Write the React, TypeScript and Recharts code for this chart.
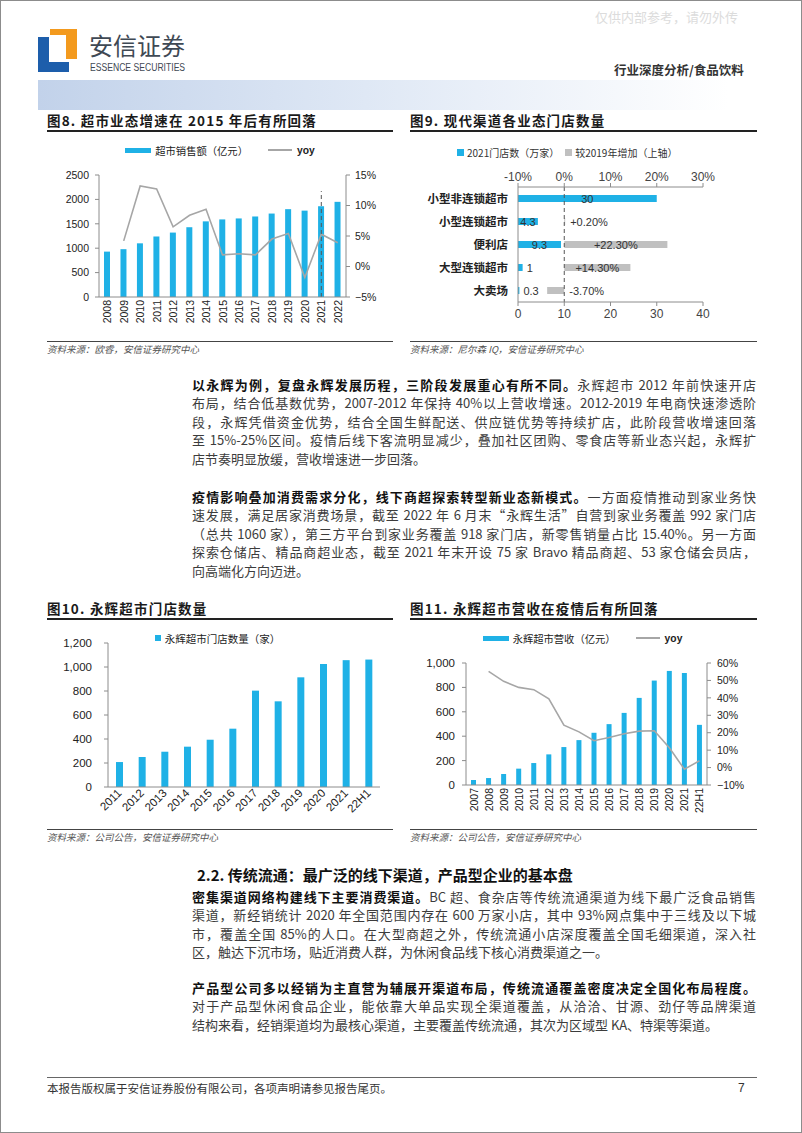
import React from 'react';
import {
  Bar,
  BarChart,
  ComposedChart,
  LabelList,
  Legend,
  Line,
  ReferenceLine,
  XAxis,
  YAxis
} from 'recharts';

// 图8 超市销售额
const fig8Years = ['2008', '2009', '2010', '2011', '2012', '2013', '2014', '2015', '2016', '2017', '2018', '2019', '2020', '2021', '2022'];
const fig8Sales = [930, 980, 1100, 1240, 1320, 1430, 1550, 1590, 1610, 1650, 1710, 1800, 1770, 1860, 1950];
const fig8Yoy = [null, 4.2, 13.2, 12.7, 6.5, 8.4, 9.4, 1.9, 2.1, 1.9, 4.5, 5.4, -1.8, 5.3, 3.9];

// 图9 各业态门店数量
const fig9Formats = ['小型非连锁超市', '小型连锁超市', '便利店', '大型连锁超市', '大卖场'];
const fig9Stores = [30, 4.3, 9.3, 1, 0.3];
const fig9Change = [null, 0.2, 22.3, 14.3, -3.7];

// 图10 永辉门店数量
const fig10Periods = ['2011', '2012', '2013', '2014', '2015', '2016', '2017', '2018', '2019', '2020', '2021', '22H1'];
const fig10Stores = [208, 250, 294, 336, 394, 486, 803, 714, 914, 1025, 1057, 1062];

// 图11 永辉营收
const fig11Periods = ['2007', '2008', '2009', '2010', '2011', '2012', '2013', '2014', '2015', '2016', '2017', '2018', '2019', '2020', '2021', '22H1'];
const fig11Revenue = [41, 57, 90, 134, 180, 251, 311, 368, 428, 499, 591, 714, 856, 935, 918, 493];
const fig11Yoy = [null, 55.2, 49.5, 46, 44.7, 39.4, 24.3, 20.5, 15.4, 17.3, 19.4, 20.9, 21.1, 11.4, -1, 3.9];

const fig8Data = fig8Years.map((year, i) => ({ year, sales: fig8Sales[i], yoy: fig8Yoy[i] }));
const fig9Data = fig9Formats.map((format, i) => ({ format, stores: fig9Stores[i], change: fig9Change[i] }));
const fig10Data = fig10Periods.map((period, i) => ({ period, stores: fig10Stores[i] }));
const fig11Data = fig11Periods.map((period, i) => ({ period, revenue: fig11Revenue[i], yoy: fig11Yoy[i] }));

const BLUE = '#1fb1e6';
const YOY_GRAY = '#a6a6a6';
const BAR_GRAY = '#c0c0c0';
const AXIS = '#8c8c8c';
const SANS = '"Liberation Sans", Arial, sans-serif';
const CJK = '"Noto Sans CJK SC", "Noto Sans", sans-serif';

const pct = (v: number) => (v < 0 ? `−${Math.abs(v)}%` : `${v}%`);
const thousands = (v: number) => v.toLocaleString('en-US');

function RotatedTick(props: any) {
  const { x, y, payload, angle, fontSize } = props;
  return (
    <g transform={`translate(${x},${y})`}>
      <text
        transform={`rotate(${angle})`}
        textAnchor="end"
        dominantBaseline="central"
        fontSize={fontSize}
        fontFamily={SANS}
        fill="#222">
        {payload.value}
      </text>
    </g>
  );
}

const numTick = (size: number) => ({ fontSize: size, fill: '#222', fontFamily: SANS });

function BarKey({ w = 26, h = 5 }: { w?: number; h?: number }) {
  return <span style={{ display: 'inline-block', width: w, height: h, background: BLUE }} />;
}

function LineKey() {
  return <span style={{ display: 'inline-block', width: 24, height: 1.5, background: YOY_GRAY }} />;
}

function ComboLegend({ label }: { label: string }) {
  return (
    <div
      style={{
        display: 'flex',
        justifyContent: 'center',
        alignItems: 'center',
        height: 16,
        fontSize: 10.3,
        color: '#222',
        fontFamily: CJK
      }}>
      <BarKey />
      <span style={{ marginLeft: 4, marginRight: 20 }}>{label}</span>
      <LineKey />
      <span style={{ marginLeft: 5, fontFamily: SANS, fontWeight: 700 }}>yoy</span>
    </div>
  );
}

function StoreLabel(props: any) {
  const vb = props.viewBox || {};
  const x = props.x ?? vb.x;
  const y = props.y ?? vb.y;
  const width = props.width ?? vb.width;
  const height = props.height ?? vb.height;
  const { value } = props;
  if (value == null) return null;
  const inside = value >= 4;
  return (
    <text
      x={inside ? x + width / 2 : x + width + 4}
      y={y + height / 2}
      textAnchor={inside ? 'middle' : 'start'}
      dominantBaseline="central"
      fontSize={11}
      fontFamily={SANS}
      fill="#333">
      {value}
    </text>
  );
}

function ChangeLabel(props: any) {
  const vb = props.viewBox || {};
  const x = props.x ?? vb.x;
  const y = props.y ?? vb.y;
  const width = props.width ?? vb.width;
  const height = props.height ?? vb.height;
  const { value } = props;
  if (value == null) return null;
  const text = value > 0 ? `+${value.toFixed(2)}%` : `${value.toFixed(2)}%`;
  const inside = Math.abs(width) > 45;
  const right = Math.max(x, x + width);
  return (
    <text
      x={inside ? x + width / 2 : right + 5}
      y={y + height / 2}
      textAnchor={inside ? 'middle' : 'start'}
      dominantBaseline="central"
      fontSize={11}
      fontFamily={SANS}
      fill="#333">
      {text}
    </text>
  );
}

function Abs({ x, y, style, children }: { x: number; y: number; style?: React.CSSProperties; children?: React.ReactNode }) {
  return <div style={{ position: 'absolute', left: x, top: y, ...style }}>{children}</div>;
}

function FigTitle({ x, y, w, text }: { x: number; y: number; w: number; text: string }) {
  return (
    <>
      <Abs
        x={x}
        y={y - 10}
        style={{ fontSize: 13.5, lineHeight: '20px', fontWeight: 700, color: '#1a1a1a', fontFamily: CJK, letterSpacing: 1.2, whiteSpace: 'nowrap' }}>
        {text}
      </Abs>
      <Abs x={x} y={y + 10} style={{ width: w, height: 1.5, background: '#222' }} />
    </>
  );
}

function Source({ x, y, w, text }: { x: number; y: number; w: number; text: string }) {
  return (
    <>
      <Abs x={x} y={y - 8} style={{ width: w, height: 1, background: '#444' }} />
      <Abs
        x={x}
        y={y - 7}
        style={{ fontSize: 9.5, lineHeight: '14px', fontStyle: 'italic', color: '#555', fontFamily: CJK, whiteSpace: 'nowrap' }}>
        {text}
      </Abs>
    </>
  );
}

type Seg = { b?: string; t?: string };

function Para({ top, lines }: { top: number; lines: Seg[] }) {
  return (
    <div
      style={{
        position: 'absolute',
        left: 192,
        top,
        width: 564,
        fontSize: 13,
        lineHeight: '18.5px',
        color: '#3c3c3c',
        fontFamily: CJK
      }}>
      {lines.map((l, i) => (
        <div key={i} style={{ textAlign: 'justify', textAlignLast: i === lines.length - 1 ? 'left' : 'justify' }}>
          {l.b && <span style={{ fontWeight: 700, color: '#111' }}>{l.b}</span>}
          {l.t}
        </div>
      ))}
    </div>
  );
}

function Fig8() {
  return (
    <div style={{ position: 'absolute', left: 40, top: 135 }}>
      <ComposedChart width={360} height={205} data={fig8Data} margin={{ top: 40, right: 0, bottom: 0, left: 0 }}>
        <Legend
          layout="horizontal"
          verticalAlign="middle"
          align="center"
          wrapperStyle={{ top: 7, left: 0, width: 360 }}
          content={() => <ComboLegend label="超市销售额（亿元）" />}
        />
        <XAxis
          dataKey="year"
          interval={0}
          height={43}
          tickLine={false}
          tickSize={0}
          tickMargin={3}
          axisLine={{ stroke: AXIS }}
          tick={(p: any) => <RotatedTick {...p} angle={-90} fontSize={10.5} />}
        />
        <YAxis
          yAxisId="left"
          domain={[0, 2500]}
          ticks={[0, 500, 1000, 1500, 2000, 2500]}
          width={59}
          axisLine={{ stroke: AXIS }}
          tickLine={{ stroke: AXIS }}
          tickSize={4}
          tickMargin={6}
          tick={numTick(10.5)}
        />
        <YAxis
          yAxisId="right"
          orientation="right"
          domain={[-5, 15]}
          ticks={[-5, 0, 5, 10, 15]}
          tickFormatter={pct}
          width={54}
          axisLine={{ stroke: AXIS }}
          tickLine={{ stroke: AXIS }}
          tickSize={4}
          tickMargin={5}
          tick={numTick(10.5)}
        />
        <Bar yAxisId="left" dataKey="sales" fill={BLUE} barSize={6} isAnimationActive={false} />
        <Line
          yAxisId="right"
          type="linear"
          dataKey="yoy"
          stroke={YOY_GRAY}
          strokeWidth={1.6}
          dot={false}
          isAnimationActive={false}
        />
        <ReferenceLine
          yAxisId="left"
          segment={[
            { x: '2021', y: 0 },
            { x: '2021', y: 2170 }
          ]}
          stroke="#555"
          strokeDasharray="4 3"
        />
      </ComposedChart>
    </div>
  );
}

function Fig9() {
  return (
    <div style={{ position: 'absolute', left: 405, top: 135 }}>
      <BarChart
        width={355}
        height={205}
        data={fig9Data}
        layout="vertical"
        margin={{ top: 30, right: 57, bottom: 8, left: 0 }}>
        <Legend
          layout="horizontal"
          verticalAlign="middle"
          align="center"
          wrapperStyle={{ top: 9, left: 52, width: 'auto' }}
          content={() => (
            <div style={{ display: 'flex', alignItems: 'center', height: 16, fontSize: 10, color: '#333', fontFamily: CJK }}>
              <BarKey w={7} h={7} />
              <span style={{ marginLeft: 3, marginRight: 6 }}>2021门店数（万家）</span>
              <span style={{ display: 'inline-block', width: 7, height: 7, background: BAR_GRAY }} />
              <span style={{ marginLeft: 3 }}>较2019年增加（上轴）</span>
            </div>
          )}
        />
        <XAxis
          xAxisId="count"
          type="number"
          orientation="bottom"
          domain={[0, 40]}
          ticks={[0, 10, 20, 30, 40]}
          height={30}
          axisLine={{ stroke: AXIS }}
          tickLine={{ stroke: AXIS }}
          tickSize={4}
          tickMargin={3}
          tick={{ fontSize: 12, fill: '#444', fontFamily: SANS }}
        />
        <XAxis
          xAxisId="pct"
          type="number"
          orientation="top"
          domain={[-10, 30]}
          ticks={[-10, 0, 10, 20, 30]}
          tickFormatter={(v: number) => `${v}%`}
          height={22}
          axisLine={{ stroke: AXIS }}
          tickLine={{ stroke: AXIS }}
          tickSize={4}
          tickMargin={2}
          tick={{ fontSize: 12, fill: '#444', fontFamily: SANS }}
        />
        <YAxis
          yAxisId="a"
          type="category"
          dataKey="format"
          width={113}
          axisLine={{ stroke: AXIS }}
          tickLine={false}
          tickSize={0}
          tickMargin={10}
          tick={{ fontSize: 11.5, fill: '#222', fontFamily: CJK, fontWeight: 700 }}
        />
        <YAxis yAxisId="b" type="category" dataKey="format" hide />
        <Bar xAxisId="count" yAxisId="a" dataKey="stores" fill={BLUE} barSize={7} isAnimationActive={false}>
          <LabelList dataKey="stores" content={StoreLabel} />
        </Bar>
        <Bar xAxisId="pct" yAxisId="b" dataKey="change" fill={BAR_GRAY} barSize={7} isAnimationActive={false}>
          <LabelList dataKey="change" content={ChangeLabel} />
        </Bar>
        <ReferenceLine xAxisId="pct" yAxisId="a" x={0} stroke="#555" strokeDasharray="4 3" />
      </BarChart>
    </div>
  );
}

function Fig10() {
  return (
    <div style={{ position: 'absolute', left: 40, top: 620 }}>
      <BarChart width={355} height={210} data={fig10Data} margin={{ top: 23, right: 15, bottom: 0, left: 0 }}>
        <Legend
          layout="horizontal"
          verticalAlign="middle"
          align="center"
          wrapperStyle={{ top: 10, left: 0, width: 355 }}
          content={() => (
            <div style={{ display: 'flex', justifyContent: 'center', alignItems: 'center', height: 16, fontSize: 10.5, color: '#222', fontFamily: CJK }}>
              <BarKey w={6} h={6} />
              <span style={{ marginLeft: 4 }}>永辉超市门店数量（家）</span>
            </div>
          )}
        />
        <XAxis
          dataKey="period"
          interval={0}
          height={43}
          tickLine={false}
          tickSize={0}
          tickMargin={4}
          axisLine={{ stroke: AXIS }}
          tick={(p: any) => <RotatedTick {...p} angle={-45} fontSize={11.5} />}
        />
        <YAxis
          domain={[0, 1200]}
          ticks={[0, 200, 400, 600, 800, 1000, 1200]}
          tickFormatter={thousands}
          width={68}
          axisLine={{ stroke: AXIS }}
          tickLine={{ stroke: AXIS }}
          tickSize={4}
          tickMargin={12}
          tick={numTick(11.5)}
        />
        <Bar dataKey="stores" fill={BLUE} barSize={7} isAnimationActive={false} />
      </BarChart>
    </div>
  );
}

function Fig11() {
  return (
    <div style={{ position: 'absolute', left: 405, top: 620 }}>
      <ComposedChart width={355} height={210} data={fig11Data} margin={{ top: 43, right: 0, bottom: 0, left: 0 }}>
        <Legend
          layout="horizontal"
          verticalAlign="middle"
          align="center"
          wrapperStyle={{ top: 10, left: 0, width: 355 }}
          content={() => <ComboLegend label="永辉超市营收（亿元）" />}
        />
        <XAxis
          dataKey="period"
          interval={0}
          height={45}
          tickLine={false}
          tickSize={0}
          tickMargin={3}
          axisLine={{ stroke: AXIS }}
          tick={(p: any) => <RotatedTick {...p} angle={-90} fontSize={10.5} />}
        />
        <YAxis
          yAxisId="left"
          domain={[0, 1000]}
          ticks={[0, 200, 400, 600, 800, 1000]}
          tickFormatter={thousands}
          width={61}
          axisLine={{ stroke: AXIS }}
          tickLine={{ stroke: AXIS }}
          tickSize={4}
          tickMargin={7}
          tick={numTick(11.5)}
        />
        <YAxis
          yAxisId="right"
          orientation="right"
          domain={[-10, 60]}
          ticks={[-10, 0, 10, 20, 30, 40, 50, 60]}
          tickFormatter={pct}
          width={53}
          axisLine={{ stroke: AXIS }}
          tickLine={{ stroke: AXIS }}
          tickSize={4}
          tickMargin={6}
          tick={numTick(10.5)}
        />
        <Bar yAxisId="left" dataKey="revenue" fill={BLUE} barSize={5} isAnimationActive={false} />
        <Line
          yAxisId="right"
          type="linear"
          dataKey="yoy"
          stroke={YOY_GRAY}
          strokeWidth={1.6}
          dot={false}
          isAnimationActive={false}
        />
      </ComposedChart>
    </div>
  );
}

export default function App() {
  return (
    <div
      style={{
        position: 'absolute',
        left: 0,
        top: 0,
        width: 802,
        height: 1133,
        background: '#fff',
        boxShadow: 'inset 0 0 0 1px #8c8c8c',
        overflow: 'hidden',
        fontFamily: CJK
      }}>
      {/* header */}
      <Abs x={595} y={8} style={{ fontSize: 13, color: '#dcdcdc', whiteSpace: 'nowrap', lineHeight: '18px' }}>
        仅供内部参考，请勿外传
      </Abs>
      <Abs x={38} y={37} style={{ width: 11, height: 35, background: '#1d5eab' }} />
      <Abs x={38} y={62} style={{ width: 31, height: 10, background: '#1d5eab' }} />
      <Abs x={50} y={29} style={{ width: 27, height: 6, background: '#f39a1e' }} />
      <Abs x={66} y={29} style={{ width: 11, height: 30, background: '#f39a1e' }} />
      <Abs x={89} y={31.5} style={{ fontSize: 24, lineHeight: '26px', color: '#3f4954', whiteSpace: 'nowrap' }}>
        安信证券
      </Abs>
      <Abs
        x={90}
        y={63}
        style={{
          fontSize: 10,
          lineHeight: '10px',
          color: '#3f4954',
          fontFamily: SANS,
          whiteSpace: 'nowrap',
          transform: 'scaleX(0.86)',
          transformOrigin: 'left center'
        }}>
        ESSENCE SECURITIES
      </Abs>
      <Abs x={614} y={61} style={{ fontSize: 12.5, lineHeight: '18px', fontWeight: 700, color: '#333', whiteSpace: 'nowrap' }}>
        行业深度分析/食品饮料
      </Abs>
      <Abs
        x={38}
        y={80}
        style={{ width: 727, height: 30, background: 'linear-gradient(to right, #c2d2ea 0%, #dfe8f5 45%, #ffffff 95%)' }}
      />

      <FigTitle x={47} y={120} w={346} text="图8. 超市业态增速在 2015 年后有所回落" />
      <FigTitle x={410} y={120} w={347} text="图9. 现代渠道各业态门店数量" />
      <Fig8 />
      <Fig9 />
      <Source x={47} y={349} w={346} text="资料来源：欧睿，安信证券研究中心" />
      <Source x={410} y={349} w={347} text="资料来源：尼尔森 IQ，安信证券研究中心" />

      <Para
        top={375.75}
        lines={[
          { b: '以永辉为例，复盘永辉发展历程，三阶段发展重心有所不同。', t: '永辉超市 2012 年前快速开店' },
          { t: '布局，结合低基数优势，2007-2012 年保持 40%以上营收增速。2012-2019 年电商快速渗透阶' },
          { t: '段，永辉凭借资金优势，结合全国生鲜配送、供应链优势等持续扩店，此阶段营收增速回落' },
          { t: '至 15%-25%区间。疫情后线下客流明显减少，叠加社区团购、零食店等新业态兴起，永辉扩' },
          { t: '店节奏明显放缓，营收增速进一步回落。' }
        ]}
      />
      <Para
        top={487.5}
        lines={[
          { b: '疫情影响叠加消费需求分化，线下商超探索转型新业态新模式。', t: '一方面疫情推动到家业务快' },
          { t: '速发展，满足居家消费场景，截至 2022 年 6 月末“永辉生活”自营到家业务覆盖 992 家门店' },
          { t: '（总共 1060 家），第三方平台到家业务覆盖 918 家门店，新零售销量占比 15.40%。另一方面' },
          { t: '探索仓储店、精品商超业态，截至 2021 年末开设 75 家 Bravo 精品商超、53 家仓储会员店，' },
          { t: '向高端化方向迈进。' }
        ]}
      />

      <FigTitle x={47} y={608} w={346} text="图10. 永辉超市门店数量" />
      <FigTitle x={410} y={608} w={347} text="图11. 永辉超市营收在疫情后有所回落" />
      <Fig10 />
      <Fig11 />
      <Source x={47} y={837} w={346} text="资料来源：公司公告，安信证券研究中心" />
      <Source x={410} y={837} w={347} text="资料来源：公司公告，安信证券研究中心" />

      <Abs x={197} y={864} style={{ fontSize: 15, lineHeight: '22px', fontWeight: 700, color: '#111', whiteSpace: 'nowrap' }}>
        2.2. 传统流通：最广泛的线下渠道，产品型企业的基本盘
      </Abs>
      <Para
        top={887.5}
        lines={[
          { b: '密集渠道网络构建线下主要消费渠道。', t: 'BC 超、食杂店等传统流通渠道为线下最广泛食品销售' },
          { t: '渠道，新经销统计 2020 年全国范围内存在 600 万家小店，其中 93%网点集中于三线及以下城' },
          { t: '市，覆盖全国 85%的人口。在大型商超之外，传统流通小店深度覆盖全国毛细渠道，深入社' },
          { t: '区，触达下沉市场，贴近消费人群，为休闲食品线下核心消费渠道之一。' }
        ]}
      />
      <Para
        top={978.8}
        lines={[
          { b: '产品型公司多以经销为主直营为辅展开渠道布局，传统流通覆盖密度决定全国化布局程度。' },
          { t: '对于产品型休闲食品企业，能依靠大单品实现全渠道覆盖，从洽洽、甘源、劲仔等品牌渠道' },
          { t: '结构来看，经销渠道均为最核心渠道，主要覆盖传统流通，其次为区域型 KA、特渠等渠道。' }
        ]}
      />

      {/* footer */}
      <Abs x={47} y={1077} style={{ width: 710, height: 1, background: '#666' }} />
      <Abs x={47} y={1080} style={{ fontSize: 11.5, lineHeight: '16px', color: '#333', whiteSpace: 'nowrap' }}>
        本报告版权属于安信证券股份有限公司，各项声明请参见报告尾页。
      </Abs>
      <Abs x={738} y={1080} style={{ fontSize: 12, lineHeight: '16px', color: '#333', fontFamily: SANS }}>
        7
      </Abs>
    </div>
  );
}
